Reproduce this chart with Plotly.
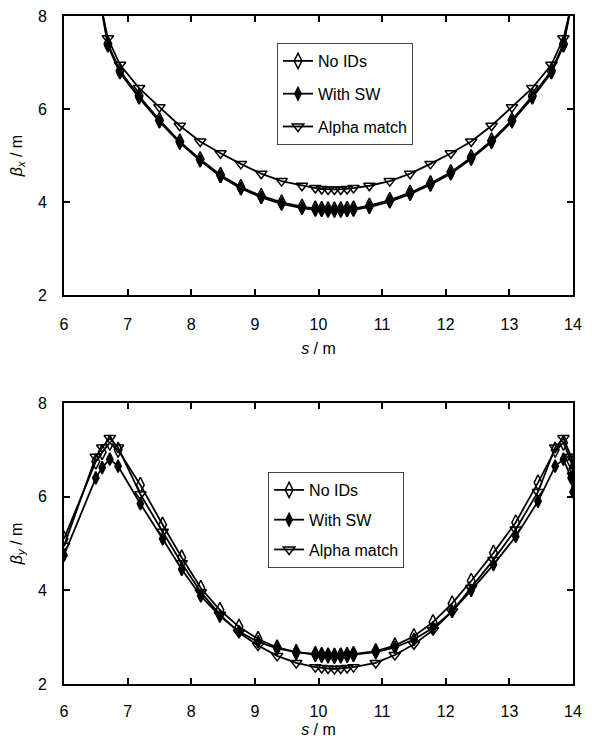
import plotly.graph_objects as go

# ---------------- data: beta_x (top panel) ----------------
s_x = [6.55, 6.69, 6.88, 7.18, 7.50, 7.82, 8.14, 8.46, 8.78, 9.10, 9.42, 9.74,
       9.95, 10.05, 10.15, 10.25, 10.35, 10.45, 10.55,
       10.80, 11.12, 11.44, 11.76, 12.08, 12.40, 12.72, 13.04, 13.36, 13.66, 13.85, 13.99]
bx_noid = [8.50, 7.40, 6.82, 6.28, 5.76, 5.30, 4.92, 4.58, 4.32, 4.13, 3.99, 3.90,
           3.86, 3.85, 3.84, 3.84, 3.84, 3.85, 3.86,
           3.92, 4.04, 4.20, 4.40, 4.64, 4.96, 5.32, 5.76, 6.28, 6.82, 7.40, 8.40]
bx_sw = [8.45, 7.36, 6.78, 6.24, 5.73, 5.27, 4.89, 4.55, 4.29, 4.10, 3.96, 3.87,
         3.83, 3.82, 3.81, 3.81, 3.81, 3.82, 3.83,
         3.89, 4.01, 4.17, 4.37, 4.61, 4.93, 5.29, 5.73, 6.24, 6.78, 7.36, 8.35]
bx_alpha = [8.40, 7.52, 6.95, 6.45, 6.04, 5.64, 5.30, 5.05, 4.82, 4.61, 4.45, 4.35,
            4.30, 4.28, 4.27, 4.27, 4.27, 4.28, 4.30,
            4.35, 4.45, 4.61, 4.82, 5.05, 5.30, 5.64, 6.04, 6.45, 6.95, 7.52, 8.30]

# ---------------- data: beta_y (bottom panel) ----------------
s_y = [6.00, 6.50, 6.60, 6.72, 6.85, 7.20, 7.55, 7.85, 8.15, 8.45, 8.75, 9.05, 9.35, 9.65,
       9.95, 10.05, 10.15, 10.25, 10.35, 10.45, 10.55,
       10.90, 11.20, 11.50, 11.80, 12.10, 12.40, 12.75, 13.10, 13.45, 13.72, 13.85, 13.97, 14.00]
by_noid = [5.10, 6.75, 6.95, 7.15, 7.00, 6.25, 5.40, 4.70, 4.05, 3.58, 3.22, 2.96, 2.78, 2.68,
           2.64, 2.62, 2.61, 2.60, 2.61, 2.62, 2.64,
           2.70, 2.82, 3.02, 3.32, 3.72, 4.20, 4.80, 5.45, 6.30, 7.00, 7.15, 6.75, 6.60]
by_sw = [4.75, 6.40, 6.62, 6.80, 6.65, 5.85, 5.10, 4.45, 3.88, 3.45, 3.12, 2.90, 2.76, 2.68,
         2.63, 2.62, 2.62, 2.62, 2.62, 2.62, 2.63,
         2.68, 2.78, 2.95, 3.20, 3.55, 4.00, 4.55, 5.15, 5.90, 6.65, 6.80, 6.40, 6.10]
by_alpha = [4.95, 6.85, 7.05, 7.25, 7.05, 6.05, 5.25, 4.58, 3.96, 3.48, 3.10, 2.82, 2.60, 2.45,
            2.36, 2.34, 2.33, 2.32, 2.33, 2.34, 2.36,
            2.45, 2.62, 2.85, 3.15, 3.55, 4.05, 4.65, 5.30, 6.10, 7.05, 7.25, 6.85, 6.45]

names = ["No IDs", "With SW", "Alpha match"]
symbols = ["diamond-tall-open", "diamond-tall", "triangle-down-open"]
sizes = [11, 9, 10]

FONT = "Liberation Sans, Arial, sans-serif"

fig = go.Figure()

top_series = [bx_noid, bx_sw, bx_alpha]
bot_series = [by_noid, by_sw, by_alpha]

for i in range(3):
    fig.add_trace(go.Scatter(
        x=s_x, y=top_series[i], mode="lines+markers", name=names[i],
        line=dict(color="black", width=1.8),
        marker=dict(symbol=symbols[i], size=sizes[i], color="black",
                    line=dict(color="black", width=1.5)),
        xaxis="x", yaxis="y", legend="legend", legendgroup="t%d" % i,
        cliponaxis=True,
    ))
for i in range(3):
    fig.add_trace(go.Scatter(
        x=s_y, y=bot_series[i], mode="lines+markers", name=names[i],
        line=dict(color="black", width=1.8),
        marker=dict(symbol=symbols[i], size=sizes[i], color="black",
                    line=dict(color="black", width=1.5)),
        xaxis="x2", yaxis="y2", legend="legend2", legendgroup="b%d" % i,
        cliponaxis=True,
    ))

axis_common = dict(
    showline=True, linecolor="black", linewidth=2, mirror="ticks",
    ticks="inside", ticklen=6, tickwidth=1.5, tickcolor="black",
    showgrid=False, zeroline=False, automargin=False,
    ticklabeloverflow="allow",
    tickfont=dict(family=FONT, size=16, color="black"),
)

fig.update_layout(
    width=576, height=730,
    margin=dict(l=56, r=11, t=8, b=54),
    paper_bgcolor="white", plot_bgcolor="white",
    font=dict(family=FONT, size=16, color="black"),
    xaxis=dict(domain=[0, 1], anchor="y", range=[6, 14], dtick=1,
               ticklabelstandoff=14,
               title=dict(text="<i>s</i> / m", standoff=11,
                          font=dict(family=FONT, size=16)),
               **axis_common),
    yaxis=dict(domain=[0.5823, 1], anchor="x", range=[2, 8], dtick=2,
               ticklabelstandoff=12,
               title=dict(text="<i>β</i><sub><i>x</i></sub> / m", standoff=20,
                          font=dict(family=FONT, size=16)),
               **axis_common),
    xaxis2=dict(domain=[0, 1], anchor="y2", range=[6, 14], dtick=1,
                ticklabelstandoff=12,
                title=dict(text="<i>s</i> / m", standoff=11,
                           font=dict(family=FONT, size=16)),
                **axis_common),
    yaxis2=dict(domain=[0, 0.4207], anchor="x2", range=[2, 8], dtick=2,
                ticklabelstandoff=12,
                title=dict(text="<i>β</i><sub><i>y</i></sub> / m", standoff=20,
                           font=dict(family=FONT, size=16)),
                **axis_common),
    legend=dict(x=0.4185, y=0.9596, xanchor="left", yanchor="top",
                bgcolor="white", bordercolor="#444", borderwidth=1,
                font=dict(family=FONT, size=16), tracegroupgap=9,
                itemwidth=30),
    legend2=dict(x=0.401, y=0.3174, xanchor="left", yanchor="top",
                 bgcolor="white", bordercolor="#444", borderwidth=1,
                 font=dict(family=FONT, size=16), tracegroupgap=6,
                 itemwidth=30),
    showlegend=True,
)

fig.write_html("out.html")
